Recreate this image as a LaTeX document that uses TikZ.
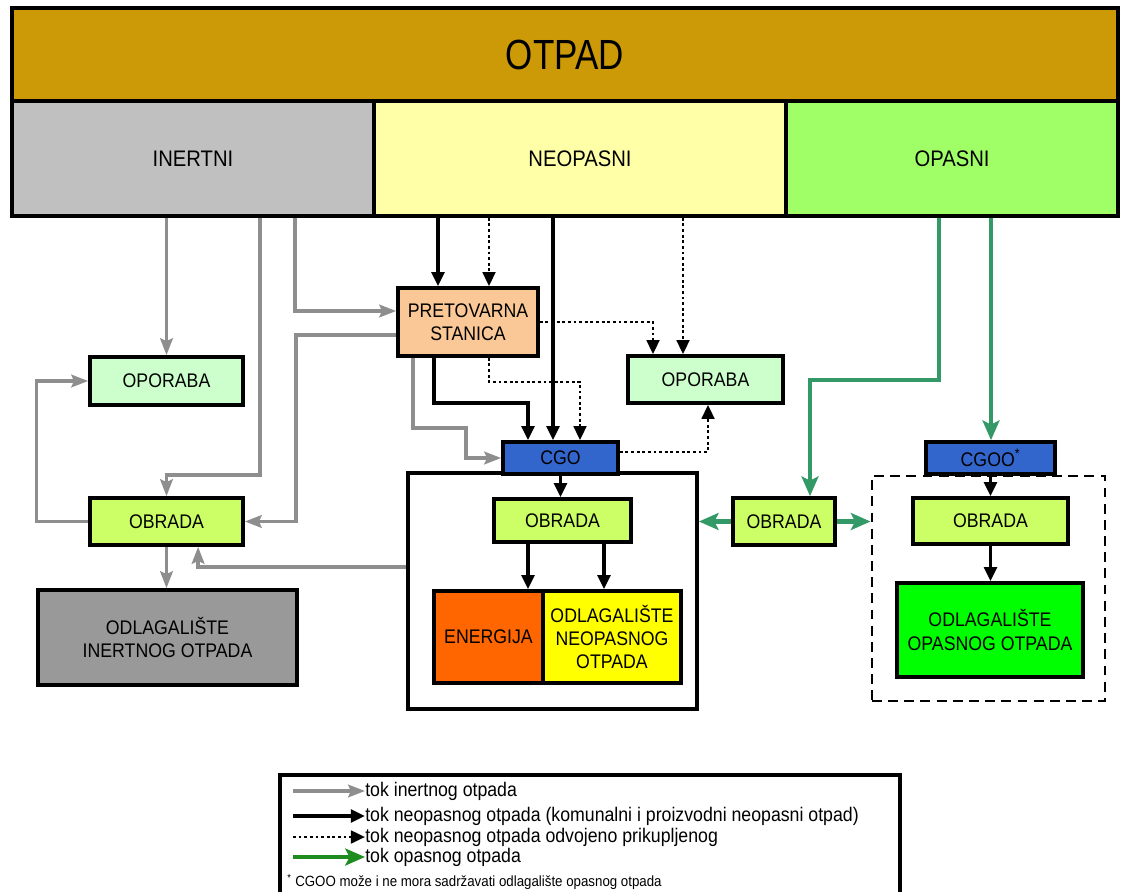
\documentclass[tikz,border=0pt]{standalone}
\usepackage{fontspec}
\setmainfont{Liberation Sans}[FakeStretch=0.9]
\newfontfamily\titlefont{Liberation Sans}[FakeStretch=0.83]
\usetikzlibrary{arrows.meta}

\definecolor{otpadcol}{HTML}{CC9A06}
\definecolor{inertcol}{HTML}{C0C0C0}
\definecolor{neocol}{HTML}{FFFFA8}
\definecolor{opacol}{HTML}{A0FF66}
\definecolor{oporcol}{HTML}{CCFFCC}
\definecolor{obrcol}{HTML}{CCFF66}
\definecolor{odlIcol}{HTML}{999999}
\definecolor{pretcol}{HTML}{FAC896}
\definecolor{cgocol}{HTML}{3366CC}
\definecolor{enercol}{HTML}{FF6600}
\definecolor{odlNcol}{HTML}{FFFF00}
\definecolor{odlOcol}{HTML}{00FF00}
\definecolor{inertline}{HTML}{8E8E8E}
\definecolor{opaline}{HTML}{339966}
\definecolor{leggreen}{HTML}{1E8C1E}

\tikzset{
box/.style={draw, line width=2.6pt, inner sep=0pt, align=center,
  font=\fontsize{14}{16.5}\selectfont},
head/.style={box, font=\fontsize{16}{19}\selectfont},
frame/.style={draw, line width=2.6pt, inner sep=0pt},
inert/.style={draw=inertline, line width=2.3pt,
  -{Stealth[length=12pt,width=9pt,inset=2pt]}},
neo/.style={draw=black, line width=2.3pt, -{Triangle[length=10pt,width=9pt]}},
odv/.style={draw=black, line width=2pt, dash pattern=on 2pt off 2pt,
  -{Triangle[length=10pt,width=9pt]}},
opa/.style={draw=opaline, line width=3.2pt,
  -{Stealth[length=14pt,width=12pt,inset=3pt]}},
legtxt/.style={anchor=west, inner sep=0pt, font=\fontsize{14}{16}\selectfont}
}

\begin{document}
\begin{tikzpicture}[x=0.025cm, y=-0.025cm]
  \useasboundingbox (0,0) rectangle (1123,892);

  % header
  \node[box, fill=otpadcol, minimum width=27.65cm, minimum height=2.325cm,
    font=\titlefont\fontsize{30}{34}\selectfont] (otpad) at (565,54.5) {OTPAD};
  \node[head, fill=inertcol, minimum width=9.05cm, minimum height=2.875cm] (inertni) at (193,158.5) {INERTNI};
  \node[head, fill=neocol, minimum width=10.3cm, minimum height=2.875cm] (neopasni) at (580,158.5) {NEOPASNI};
  \node[head, fill=opacol, minimum width=8.3cm, minimum height=2.875cm] (opasni) at (952,158.5) {OPASNI};

  % frames
  \node[frame, minimum width=7.225cm, minimum height=5.9cm] (cgoframe) at (552.5,591) {};
  \node[frame, dash pattern=on 7pt off 4.5pt, line width=2pt, minimum width=5.825cm, minimum height=5.625cm] (dashframe) at (988.5,588.5) {};

  % inertni
  \node[box, fill=oporcol, minimum width=3.825cm, minimum height=1.2cm] (oporabaL) at (166.5,381) {OPORABA};
  \node[box, fill=obrcol, minimum width=3.825cm, minimum height=1.175cm] (obradaL) at (166.5,521.5) {OBRADA};
  \node[box, fill=odlIcol, minimum width=6.475cm, minimum height=2.375cm] (odlagI) at (167.5,637.5) {ODLAGALIŠTE\\INERTNOG OTPADA};

  % neopasni
  \node[box, fill=pretcol, minimum width=3.5cm, minimum height=1.7cm] (pretovarna) at (468,322) {PRETOVARNA\\STANICA};
  \node[box, fill=oporcol, minimum width=3.875cm, minimum height=1.175cm] (oporabaM) at (705.5,379.5) {OPORABA};
  \node[box, fill=cgocol, minimum width=2.875cm, minimum height=0.8cm] (cgo) at (560.5,458) {CGO};
  \node[box, fill=obrcol, minimum width=3.425cm, minimum height=1.075cm] (obradaM) at (562.5,520.5) {OBRADA};
  \node[box, fill=enercol, minimum width=2.725cm, minimum height=2.3cm] (energija) at (488.5,637) {ENERGIJA};
  \node[box, fill=odlNcol, minimum width=3.45cm, minimum height=2.3cm] (odlagN) at (612,637) {ODLAGALIŠTE\\NEOPASNOG\\OTPADA};

  % opasni
  \node[box, fill=obrcol, minimum width=2.55cm, minimum height=1.175cm] (obradaB) at (784,521.5) {OBRADA};
  \node[box, fill=cgocol, minimum width=3.225cm, minimum height=0.8cm] (cgoo) at (990.5,458) {CGOO\textsuperscript{*}};
  \node[box, fill=obrcol, minimum width=3.875cm, minimum height=1.15cm] (obradaR) at (990.5,521) {OBRADA};
  \node[box, fill=odlOcol, minimum width=4.65cm, minimum height=2.35cm] (odlagO) at (990,630) {ODLAGALIŠTE\\OPASNOG OTPADA};

  % tok inertnog otpada
  \draw[inert] (oporabaL.north |- inertni.south) -- (oporabaL.north);
  \draw[inert] (260,0 |- inertni.south) -- (260,475) -| (obradaL.north);
  \draw[inert] (295,0 |- inertni.south) |- ([yshift=0.275cm]pretovarna.west);
  \draw[inert] ([yshift=-0.325cm]pretovarna.west) -| (296,0 |- obradaL.east) -- (obradaL.east);
  \draw[inert] (413,0 |- pretovarna.south) -- (413,428) -| (466,0 |- cgo.west) -- (cgo.west);
  \draw[inert] (cgoframe.west |- 0,567) -| ([xshift=0.79cm]obradaL.south);
  \draw[inert] (obradaL.south) -- (obradaL.south |- odlagI.north);
  \draw[inert] (obradaL.west) -- (odlagI.west |- obradaL.west) |- (oporabaL.west);

  % tok neopasnog otpada
  \draw[neo] (438,0 |- neopasni.south) -- (438,0 |- pretovarna.north);
  \draw[neo] (553,0 |- neopasni.south) -- (553,0 |- cgo.north);
  \draw[neo] (434,0 |- pretovarna.south) |- (528,403) -- (528,0 |- cgo.north);
  \draw[neo] (cgo.south) -- (cgo.south |- obradaM.north);
  \draw[neo] (528,0 |- obradaM.south) -- (528,0 |- energija.north);
  \draw[neo] (604,0 |- obradaM.south) -- (604,0 |- odlagN.north);
  \draw[neo] (cgoo.south) -- (cgoo.south |- obradaR.north);
  \draw[neo] (obradaR.south) -- (obradaR.south |- odlagO.north);

  % odvojeno prikupljeni
  \draw[odv] (489,0 |- neopasni.south) -- (489,0 |- pretovarna.north);
  \draw[odv] (pretovarna.east) -| (653,0 |- oporabaM.north);
  \draw[odv] (683,0 |- neopasni.south) -- (683,0 |- oporabaM.north);
  \draw[odv] (489,0 |- pretovarna.south) |- (580,382) -- (580,0 |- cgo.north);
  \draw[odv] ([yshift=0.15cm]cgo.east) -| (708,0 |- oporabaM.south);

  % tok opasnog otpada
  \draw[opa] (939,0 |- opasni.south) |- (810,380) -- (810,0 |- obradaB.north);
  \draw[opa] (991,0 |- opasni.south) -- (991,0 |- cgoo.north);
  \draw[opa] (obradaB.west) -- (cgoframe.east |- obradaB.west);
  \draw[opa] (obradaB.east) -- (dashframe.west |- obradaB.east);

  % legenda
  \draw[line width=2.6pt] (280,895) |- (900,775) -- (900,895);
  \node[legtxt] (leg1) at (365,791) {tok inertnog otpada};
  \node[legtxt] (leg2) at (365,816) {tok neopasnog otpada (komunalni i proizvodni neopasni otpad)};
  \node[legtxt] (leg3) at (365,837) {tok neopasnog otpada odvojeno prikupljenog};
  \node[legtxt] (leg4) at (365,857) {tok opasnog otpada};
  \node[legtxt, font=\fontsize{10.5}{12}\selectfont] (foot) at (287,882) {\textsuperscript{*} CGOO može i ne mora sadržavati odlagalište opasnog otpada};
  \coordinate (leg1s) at (293,791);
  \coordinate (leg2s) at (293,816);
  \coordinate (leg3s) at (293,837);
  \coordinate (leg4s) at (293,857);
  \draw[inert] (leg1s) -- (leg1.west);
  \draw[neo] (leg2s) -- (leg2.west);
  \draw[odv] (leg3s) -- (leg3.west);
  \draw[opa, draw=leggreen, line width=2.6pt] (leg4s) -- (leg4.west);
\end{tikzpicture}
\end{document}
